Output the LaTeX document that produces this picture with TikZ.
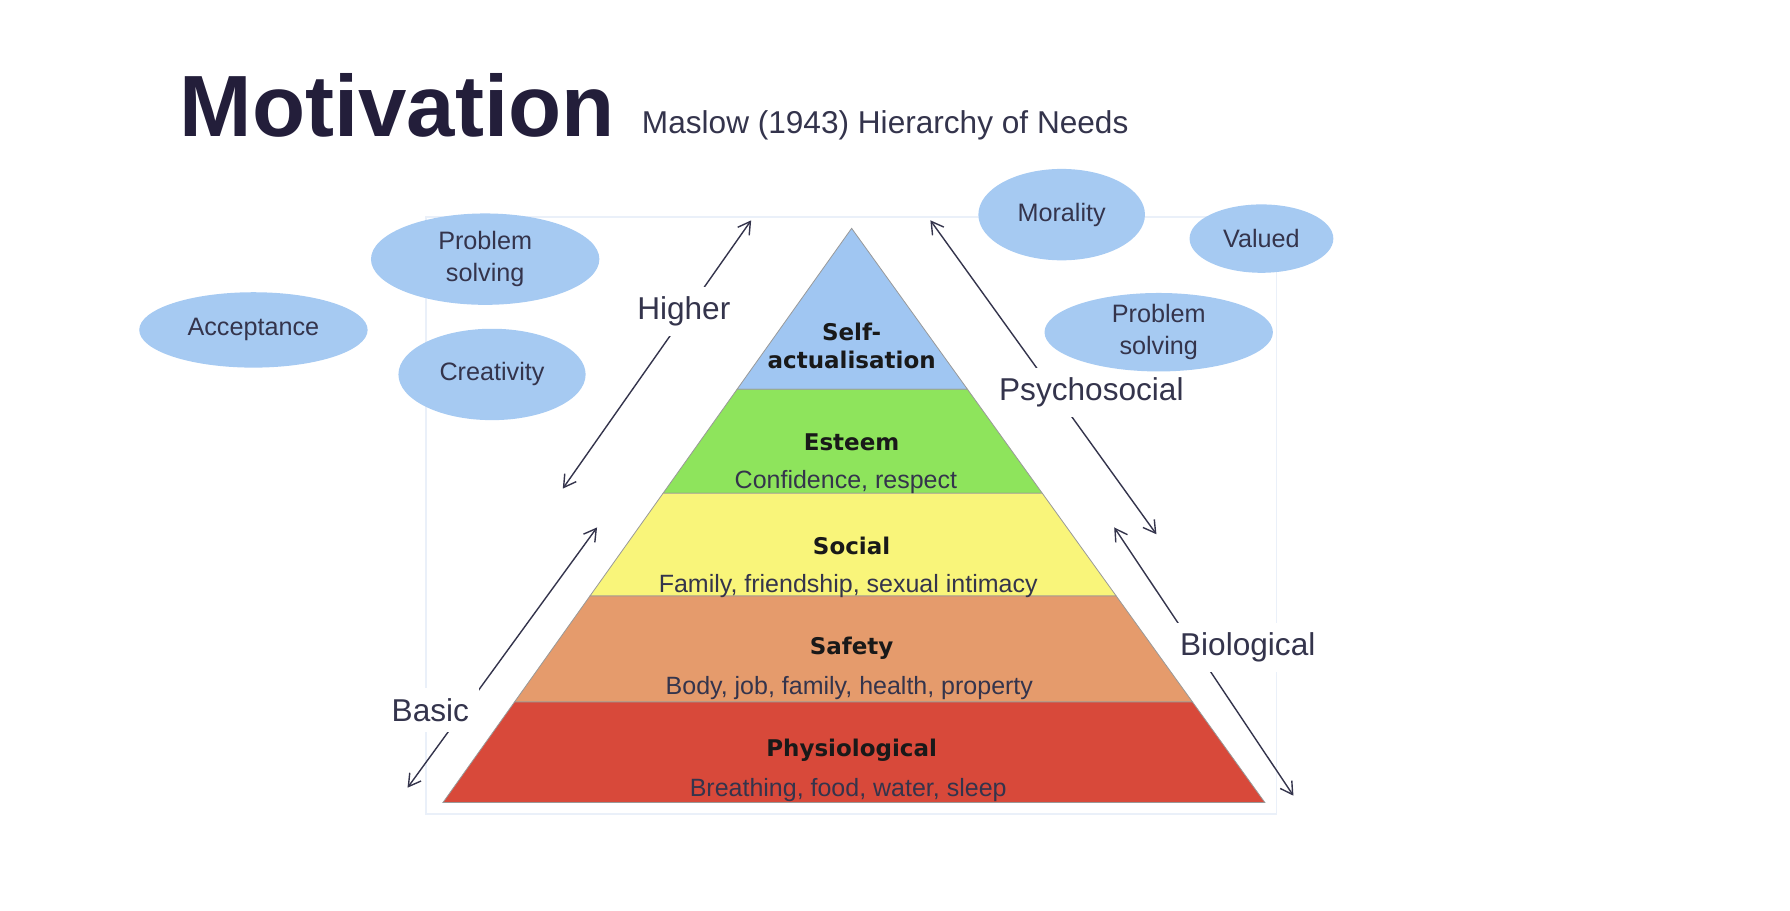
\documentclass[tikz,border=0pt]{standalone}
\usepackage{fontspec}
\setmainfont{Liberation Sans}
\newfontfamily\levelfont{DejaVu Sans}
\usetikzlibrary{shapes.geometric,arrows.meta,calc}
\definecolor{titleink}{RGB}{35,30,58}
\definecolor{ink}{RGB}{52,52,76}
\definecolor{bubblec}{RGB}{166,202,242}
\definecolor{selfc}{RGB}{160,198,242}
\definecolor{esteemc}{RGB}{142,228,92}
\definecolor{socialc}{RGB}{249,245,122}
\definecolor{safetyc}{RGB}{229,155,108}
\definecolor{physioc}{RGB}{216,73,58}
\definecolor{framec}{RGB}{234,240,249}

\begin{document}
\begin{tikzpicture}[x=0.5708pt,y=-0.5708pt,
    bubble/.style={ellipse,fill=bubblec,inner sep=0pt,text=ink,font=\fontsize{12.6}{16}\selectfont,align=center},
    lvl/.style={font=\levelfont\bfseries\fontsize{11.5}{14.3}\selectfont,text=black!90,align=center},
    needs/.style={font=\fontsize{12.5}{15}\selectfont,text=ink},
    side/.style={fill=white,inner sep=5pt,font=\fontsize{15.8}{18}\selectfont,text=ink},
    twoway/.style={{Straight Barb[length=6pt,width=7pt]}-{Straight Barb[length=6pt,width=7pt]},draw=ink,line width=0.7pt}]
    \useasboundingbox (0,0) rectangle (1568,798);
    \node[anchor=base west, inner sep=0pt, font=\bfseries\fontsize{43.5}{50}\selectfont, text=titleink] (title) at (157,120) {Motivation};
    \node[anchor=base west, inner sep=0pt, font=\fontsize{15.8}{18}\selectfont, text=ink] (subtitle) at (562,117) {Maslow (1943) Hierarchy of Needs};
    \draw[framec, line width=0.7pt] (373,190) rectangle (1118,713);
    % Arrows
    \coordinate (hiLo) at (493,428); \coordinate (hiUp) at (658,193);
    \coordinate (psUp) at (815,193); \coordinate (psLo) at (1013,468);
    \coordinate (baLo) at (357,690); \coordinate (baUp) at (523,462);
    \coordinate (biUp) at (976,462); \coordinate (biLo) at (1133,697);
    \draw[twoway] (hiLo) -- (hiUp);
    \draw[twoway] (psUp) -- (psLo);
    \draw[twoway] (baLo) -- (baUp);
    \draw[twoway] (biUp) -- (biLo);
    \node[side] (higher) at (599,273) {Higher};
    \node[side] (psycho) at (956,344) {Psychosocial};
    \node[side] (basic) at (377,622) {Basic};
    \node[side] (bio) at (1093,567) {Biological};
    % Pyramid
    \coordinate (apex) at (746,200);
    \coordinate (bl) at (388,703);
    \coordinate (br) at (1108,703);
    \foreach \ta/\tb/\col in {0/0.2803/selfc, 0.2803/0.4612/esteemc, 0.4612/0.6402/socialc, 0.6402/0.8250/safetyc, 0.8250/1/physioc}
        \filldraw[fill=\col, draw=black!40, line width=0.4pt] ($(apex)!\ta!(bl)$) -- ($(apex)!\tb!(bl)$) -- ($(apex)!\tb!(br)$) -- ($(apex)!\ta!(br)$) -- cycle;
    \node[lvl] (selfT) at (746,303) {Self-\\actualisation};
    \node[lvl] (esteemT) at (746,387) {Esteem};
    \node[needs] (esteemS) at (741,422) {Confidence, respect};
    \node[lvl] (socialT) at (746,478) {Social};
    \node[needs] (socialS) at (743,513) {Family, friendship, sexual intimacy};
    \node[lvl] (safetyT) at (746,568) {Safety};
    \node[needs] (safetyS) at (744,603) {Body, job, family, health, property};
    \node[lvl] (physioT) at (746,657) {Physiological};
    \node[needs] (physioS) at (743,692) {Breathing, food, water, sleep};
    % Bubbles
    \node[bubble, minimum width=114.2pt, minimum height=37.7pt] (accept) at (222,289) {Acceptance};
    \node[bubble, minimum width=114.2pt, minimum height=45.7pt] (probL) at (425,227) {Problem\\solving};
    \node[bubble, minimum width=93.6pt, minimum height=45.7pt] (creat) at (431,328) {Creativity};
    \node[bubble, minimum width=83.3pt, minimum height=45.7pt] (moral) at (930,188) {Morality};
    \node[bubble, minimum width=71.9pt, minimum height=34.2pt] (valued) at (1105,209) {Valued};
    \node[bubble, minimum width=114.2pt, minimum height=37.7pt] (probR) at (1015,291) {Problem\\solving};
\end{tikzpicture}
\end{document}
